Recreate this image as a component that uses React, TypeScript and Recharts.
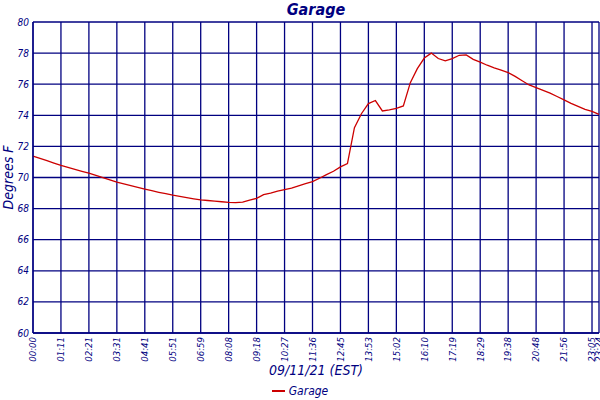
import React from 'react'
import {
	LineChart,
	Line,
	XAxis,
	YAxis,
	CartesianGrid,
	Legend,
	Label,
} from 'recharts'

// x positions of the labelled ticks (sample index) and their labels
const tickIndex = [
	0, 4, 8, 12, 16, 20, 24, 28, 32, 36, 40, 44, 48, 52, 56, 60, 64, 68, 72, 76,
	80, 81,
]
const tickLabels = [
	'00:00', '01:11', '02:21', '03:31', '04:41', '05:51', '06:59', '08:08',
	'09:18', '10:27', '11:36', '12:45', '13:53', '15:02', '16:10', '17:19',
	'18:29', '19:38', '20:48', '21:56', '23:05', '23:24',
]
const yTicks = [60, 62, 64, 66, 68, 70, 72, 74, 76, 78, 80]

// Garage temperature, one reading per sample
const temps = [
	71.38, 71.23, 71.08, 70.93, 70.78, 70.65, 70.53, 70.4, 70.28, 70.14,
	69.99, 69.85, 69.7, 69.59, 69.48, 69.36, 69.25, 69.15, 69.05, 68.96,
	68.86, 68.78, 68.71, 68.63, 68.56, 68.52, 68.48, 68.44, 68.4, 68.38,
	68.42, 68.55, 68.66, 68.9, 69.0, 69.12, 69.22, 69.32, 69.46, 69.6,
	69.73, 69.95, 70.18, 70.4, 70.68, 70.9, 73.2, 74.1, 74.75, 74.95,
	74.28, 74.35, 74.45, 74.6, 76.1, 77.0, 77.68, 78.0, 77.65, 77.5,
	77.65, 77.86, 77.88, 77.6, 77.42, 77.22, 77.05, 76.9, 76.75, 76.5,
	76.22, 75.95, 75.78, 75.6, 75.43, 75.21, 74.99, 74.77, 74.58, 74.38,
	74.25, 74.06,
]

const data = temps.map((t, i) => ({ idx: i, Garage: t }))

const NAVY = '#000080'
const FONT = '"DejaVu Sans Condensed", "DejaVu Sans", sans-serif'

const XTick = (props: any) => {
	const { x, y, payload } = props
	const label = tickLabels[tickIndex.indexOf(payload.value)] ?? ''
	return (
		<text
			x={x}
			y={y}
			transform={`rotate(-90, ${x}, ${y})`}
			textAnchor="end"
			dy="0.35em"
			fill={NAVY}
			fontSize={9.5}
			fontStyle="italic"
		>
			{label}
		</text>
	)
}

const renderLegend = (props: any) => {
	const { payload } = props
	return (
		<div style={{ display: 'flex', justifyContent: 'center' }}>
			{payload.map((entry: any) => (
				<div
					key={entry.value}
					style={{ display: 'flex', alignItems: 'center', gap: '4px' }}
				>
					<span
						style={{
							display: 'inline-block',
							width: '13px',
							height: '2px',
							backgroundColor: entry.color,
						}}
					></span>
					<span
						style={{
							fontSize: '12px',
							fontStyle: 'italic',
							color: NAVY,
						}}
					>
						{entry.value}
					</span>
				</div>
			))}
		</div>
	)
}

const App = () => {
	return (
		<div
			style={{
				position: 'absolute',
				left: 0,
				top: 0,
				width: '600px',
				height: '400px',
				backgroundColor: '#ffffff',
				fontFamily: FONT,
			}}
		>
			{/* Title */}
			<div
				style={{
					position: 'absolute',
					left: 33,
					width: 566,
					top: 0,
					textAlign: 'center',
					fontSize: '16px',
					fontWeight: 'bold',
					fontStyle: 'italic',
					color: NAVY,
					lineHeight: '19px',
				}}
			>
				Garage
			</div>

			<LineChart
				width={600}
				height={400}
				data={data}
				margin={{ top: 22, right: 1, bottom: 0, left: 0 }}
			>
				<CartesianGrid stroke={NAVY} strokeWidth={1.3} />
				<XAxis
					dataKey="idx"
					type="number"
					domain={[0, 81]}
					ticks={tickIndex}
					interval={0}
					height={67}
					axisLine={{ stroke: NAVY, strokeWidth: 1.3 }}
					tickLine={false}
					tickSize={4}
					tickMargin={0}
					tick={<XTick />}
				>
					<Label
						value="09/11/21 (EST)"
						position="center"
						dy={4}
						fill={NAVY}
						fontSize={14}
						fontStyle="italic"
					/>
				</XAxis>
				<YAxis
					domain={[60, 80]}
					ticks={yTicks}
					width={33}
					axisLine={{ stroke: NAVY, strokeWidth: 1.3 }}
					tickLine={false}
					tickSize={2}
					tickMargin={2}
					tick={{ fill: NAVY, fontSize: 10, fontStyle: 'italic' }}
				>
					<Label
						value="Degrees F"
						angle={-90}
						position="center"
						dx={-8}
						fill={NAVY}
						fontSize={14}
						fontStyle="italic"
					/>
				</YAxis>
				<Legend
					layout="horizontal"
					verticalAlign="middle"
					align="center"
					wrapperStyle={{ top: 384, left: 0, width: 600 }}
					content={renderLegend}
				/>
				<Line
					type="linear"
					dataKey="Garage"
					stroke="#cc0000"
					strokeWidth={1.3}
					dot={false}
					isAnimationActive={false}
				/>
			</LineChart>
		</div>
	)
}

export default App
